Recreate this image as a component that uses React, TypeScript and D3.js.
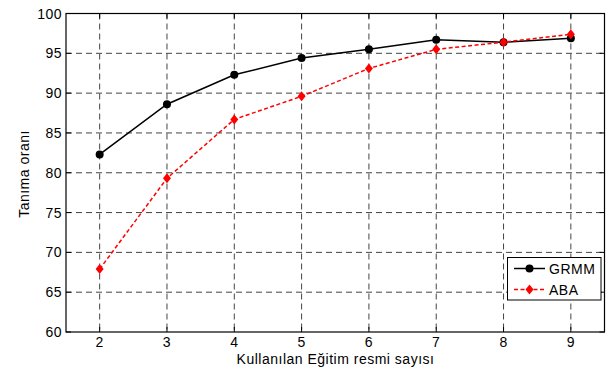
import React from "react";
import * as d3 from "d3";

const xValues = [2, 3, 4, 5, 6, 7, 8, 9];
const grmm = [82.3, 88.6, 92.3, 94.4, 95.5, 96.7, 96.4, 96.9];
const aba = [67.9, 79.3, 86.7, 89.6, 93.1, 95.5, 96.4, 97.4];
const yTicks = [60, 65, 70, 75, 80, 85, 90, 95, 100];
const seriesNames = ["GRMM", "ABA"];

const W = 606, H = 372;
const L = 66, R = 604.5, T = 13.5, B = 332;

export default function App() {
  const x = d3.scaleLinear().domain([1.5, 9.5]).range([L, R]);
  const y = d3.scaleLinear().domain([60, 100]).range([B, T]);
  const line = d3.line<number>().x((_, i) => x(xValues[i])).y((d) => y(d));
  const font = "'Liberation Sans', Arial, sans-serif";
  const fs = 14;
  const ls = 0.5;
  const diamond = (cx: number, cy: number, r: number) =>
    `M${cx},${cy - r}L${cx + r * 0.8},${cy}L${cx},${cy + r}L${cx - r * 0.8},${cy}Z`;
  const lx1 = 514, lx2 = 545, ly1 = 268.5, ly2 = 289.5;
  return (
    <svg width={W} height={H} style={{ position: "absolute", left: 0, top: 0 }}>
      <rect x={0} y={0} width={W} height={H} fill="#fff" />
      {/* grid */}
      {xValues.map((v) => (
        <line key={"gx" + v} x1={x(v)} x2={x(v)} y1={T} y2={B} stroke="#444" strokeWidth={1} strokeDasharray="6,4" />
      ))}
      {yTicks.slice(1, -1).map((v) => (
        <line key={"gy" + v} x1={L} x2={R} y1={y(v)} y2={y(v)} stroke="#444" strokeWidth={1} strokeDasharray="6,4" />
      ))}
      {/* ticks */}
      {xValues.map((v) => (
        <g key={"tx" + v}>
          <line x1={x(v)} x2={x(v)} y1={B} y2={B - 5} stroke="#000" />
          <line x1={x(v)} x2={x(v)} y1={T} y2={T + 5} stroke="#000" />
          <text x={x(v)} y={B + 15} textAnchor="middle" fontFamily={font} fontSize={fs} letterSpacing={ls}>{v}</text>
        </g>
      ))}
      {yTicks.map((v) => (
        <g key={"ty" + v}>
          <line x1={L} x2={L + 5} y1={y(v)} y2={y(v)} stroke="#000" />
          <line x1={R} x2={R - 5} y1={y(v)} y2={y(v)} stroke="#000" />
          <text x={L - 4} y={y(v) + 5} textAnchor="end" fontFamily={font} fontSize={fs} letterSpacing={ls}>{v}</text>
        </g>
      ))}
      <rect x={L} y={T} width={R - L} height={B - T} fill="none" stroke="#000" strokeWidth={1.2} />
      {/* series */}
      <path d={line(grmm) || ""} fill="none" stroke="#000" strokeWidth={1.5} />
      {grmm.map((v, i) => (
        <circle key={"g" + i} cx={x(xValues[i])} cy={y(v)} r={4} fill="#000" />
      ))}
      <path d={line(aba) || ""} fill="none" stroke="#f00" strokeWidth={1.5} strokeDasharray="4,2.5" />
      {aba.map((v, i) => (
        <path key={"a" + i} d={diamond(x(xValues[i]), y(v), 5)} fill="#f00" />
      ))}
      {/* axis titles */}
      <text x={335.5} y={363.5} textAnchor="middle" fontFamily={font} fontSize={fs} letterSpacing={ls}>Kullanılan Eğitim resmi sayısı</text>
      <text transform={`translate(29,174) rotate(-90)`} textAnchor="middle" fontFamily={font} fontSize={fs} letterSpacing={ls}>Tanıma oranı</text>
      {/* legend */}
      <rect x={507.5} y={257.5} width={93.5} height={42.5} fill="#fff" stroke="#000" strokeWidth={1} />
      <line x1={lx1} x2={lx2} y1={ly1} y2={ly1} stroke="#000" strokeWidth={1.5} />
      <circle cx={(lx1 + lx2) / 2} cy={ly1} r={4} fill="#000" />
      <text x={549} y={ly1 + 5} fontFamily={font} fontSize={fs} letterSpacing={ls}>{seriesNames[0]}</text>
      <line x1={lx1} x2={lx2} y1={ly2} y2={ly2} stroke="#f00" strokeWidth={1.5} strokeDasharray="4,2.5" />
      <path d={diamond((lx1 + lx2) / 2, ly2, 5)} fill="#f00" />
      <text x={549} y={ly2 + 5} fontFamily={font} fontSize={fs} letterSpacing={ls}>{seriesNames[1]}</text>
    </svg>
  );
}
